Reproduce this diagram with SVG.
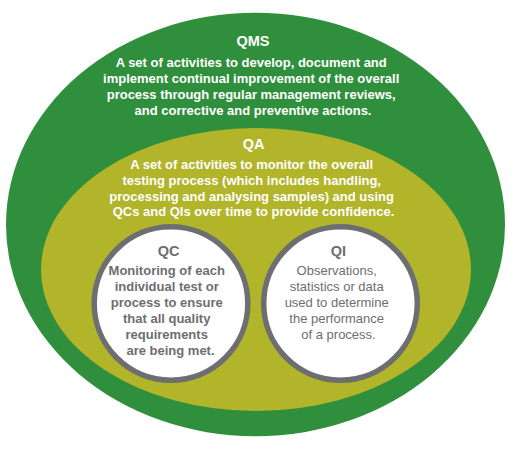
<svg xmlns="http://www.w3.org/2000/svg" width="512" height="449" viewBox="0 0 512 449">
  <style>
    .t { font-family: "Liberation Sans", Arial, sans-serif; text-anchor: middle; }
    .title { font-size: 14.5px; font-weight: bold; }
    .body { font-size: 13px; }
    .b { font-weight: bold; }
    .w { fill: #ffffff; }
    .g { fill: #6d6e71; }
    .ring { fill: #ffffff; stroke: #6d6e71; stroke-width: 5.5; }
  </style>
  <rect width="512" height="449" fill="#ffffff"/>
  <g id="qms">
    <ellipse cx="255.5" cy="224.5" rx="249.5" ry="211.7" fill="#2f8f3d"/>
    <text class="t title w" x="253" y="46">QMS</text>
    <text class="t body b w">
      <tspan x="253" y="66.7">A set of activities to develop, document and</tspan>
      <tspan x="253" y="82.8">implement continual improvement of the overall</tspan>
      <tspan x="253" y="98.9">process through regular management reviews,</tspan>
      <tspan x="253" y="115">and corrective and preventive actions.</tspan>
    </text>
  </g>
  <g id="qa">
    <ellipse cx="256" cy="269.5" rx="215" ry="141.5" fill="#b2b42a"/>
    <text class="t title w" x="253.5" y="149.3">QA</text>
    <text class="t body b w">
      <tspan x="253.5" y="169.3">A set of activities to monitor the overall</tspan>
      <tspan x="253.5" y="185">testing process (which includes handling,</tspan>
      <tspan x="253.5" y="200.7">processing and analysing samples) and using</tspan>
      <tspan x="253.5" y="216.3">QCs and QIs over time to provide confidence.</tspan>
    </text>
  </g>
  <g id="qc">
    <circle class="ring" cx="171" cy="303.5" r="76.8"/>
    <text class="t title g" x="168.5" y="256">QC</text>
    <text class="t body b g">
      <tspan x="168.5" y="275">Monitoring of each</tspan>
      <tspan x="168.5" y="291">individual test or</tspan>
      <tspan x="168.5" y="307">process to ensure</tspan>
      <tspan x="168.5" y="323">that all quality</tspan>
      <tspan x="168.5" y="339">requirements</tspan>
      <tspan x="170.5" y="355">are being met.</tspan>
    </text>
  </g>
  <g id="qi">
    <circle class="ring" cx="340.5" cy="303.5" r="76.8"/>
    <text class="t title g" x="338.5" y="256">QI</text>
    <text class="t body g">
      <tspan x="338.5" y="275">Observations,</tspan>
      <tspan x="338.5" y="291">statistics or data</tspan>
      <tspan x="338.5" y="307">used to determine</tspan>
      <tspan x="338.5" y="323">the performance</tspan>
      <tspan x="338.5" y="339">of a process.</tspan>
    </text>
  </g>
  <g id="connectors"/>
</svg>
